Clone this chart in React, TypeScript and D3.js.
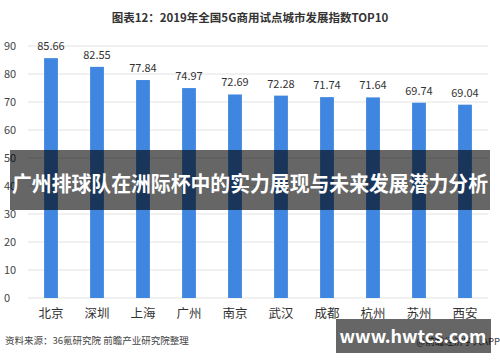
import React from "react";
import * as d3 from "d3";

const categories = ["北京", "深圳", "上海", "广州", "南京", "武汉", "成都", "杭州", "苏州", "西安"];
const values = [85.66, 82.55, 77.84, 74.97, 72.69, 72.28, 71.74, 71.64, 69.74, 69.04];
const yTicks = [0, 10, 20, 30, 40, 50, 60, 70, 80, 90];
const title = "图表12：2019年全国5G商用试点城市发展指数TOP10";
const source = "资料来源：36氪研究院 前瞻产业研究院整理";
const overlayText = "广州排球队在洲际杯中的实力展现与未来发展潜力分析";
const badgeText = "www.hwtcs.com";
const appText = "@前瞻经济学人APP";

const W = 500;
const H = 362;
const FONT = "'Noto Sans CJK SC', 'Noto Sans', sans-serif";

export default function App() {
  const x = d3.scaleBand<string>().domain(categories).range([28, 488]).paddingInner(0.7).paddingOuter(0.35);
  const y = d3.scaleLinear().domain([0, 90]).range([298, 46]);

  return (
    <svg width={W} height={H} style={{ position: "absolute", left: 0, top: 0, background: "#fff" }}>
      <rect x={0} y={0} width={W} height={H} fill="#fff" />
      <text x={250} y={22} textAnchor="middle" fontFamily={FONT} fontSize={11.5} fontWeight="bold" fill="#333">
        {title}
      </text>
      {yTicks.map((t) => (
        <g key={t}>
          <line x1={28} x2={488} y1={y(t)} y2={y(t)} stroke="#e3e3e3" strokeWidth={1} />
          <text x={4} y={y(t) + 4} fontFamily={FONT} fontSize={11} fill="#444">
            {t}
          </text>
        </g>
      ))}
      {categories.map((c, i) => (
        <g key={c}>
          <rect x={x(c)} y={y(values[i])} width={x.bandwidth()} height={y(0) - y(values[i])} fill="#3f86e0" />
          <text x={(x(c) as number) + x.bandwidth() / 2} y={y(values[i]) - 8} textAnchor="middle" fontFamily={FONT} fontSize={11} fill="#333">
            {values[i].toFixed(2)}
          </text>
          <text x={(x(c) as number) + x.bandwidth() / 2} y={318} textAnchor="middle" fontFamily={FONT} fontSize={12.5} fill="#333">
            {c}
          </text>
        </g>
      ))}
      <text x={5} y={344} fontFamily={FONT} fontSize={9.5} fill="#444">
        {source}
      </text>
      <text x={500} y={345} textAnchor="end" fontFamily={FONT} fontSize={9.5} fill="#444">
        {appText}
      </text>
      <rect x={10} y={150} width={480} height={60} fill="rgba(0,0,0,0.6)" />
      <text x={12} y={191} textLength={476} lengthAdjust="spacingAndGlyphs" fontFamily={FONT} fontSize={21} fontWeight="bold" fill="#fff">
        {overlayText}
      </text>
      <rect x={336} y={319} width={155} height={34} fill="rgba(0,0,0,0.6)" />
      <text x={413} y={343} textAnchor="middle" fontFamily={FONT} fontSize={18} fontWeight="bold" fill="#fff">
        {badgeText}
      </text>
    </svg>
  );
}
